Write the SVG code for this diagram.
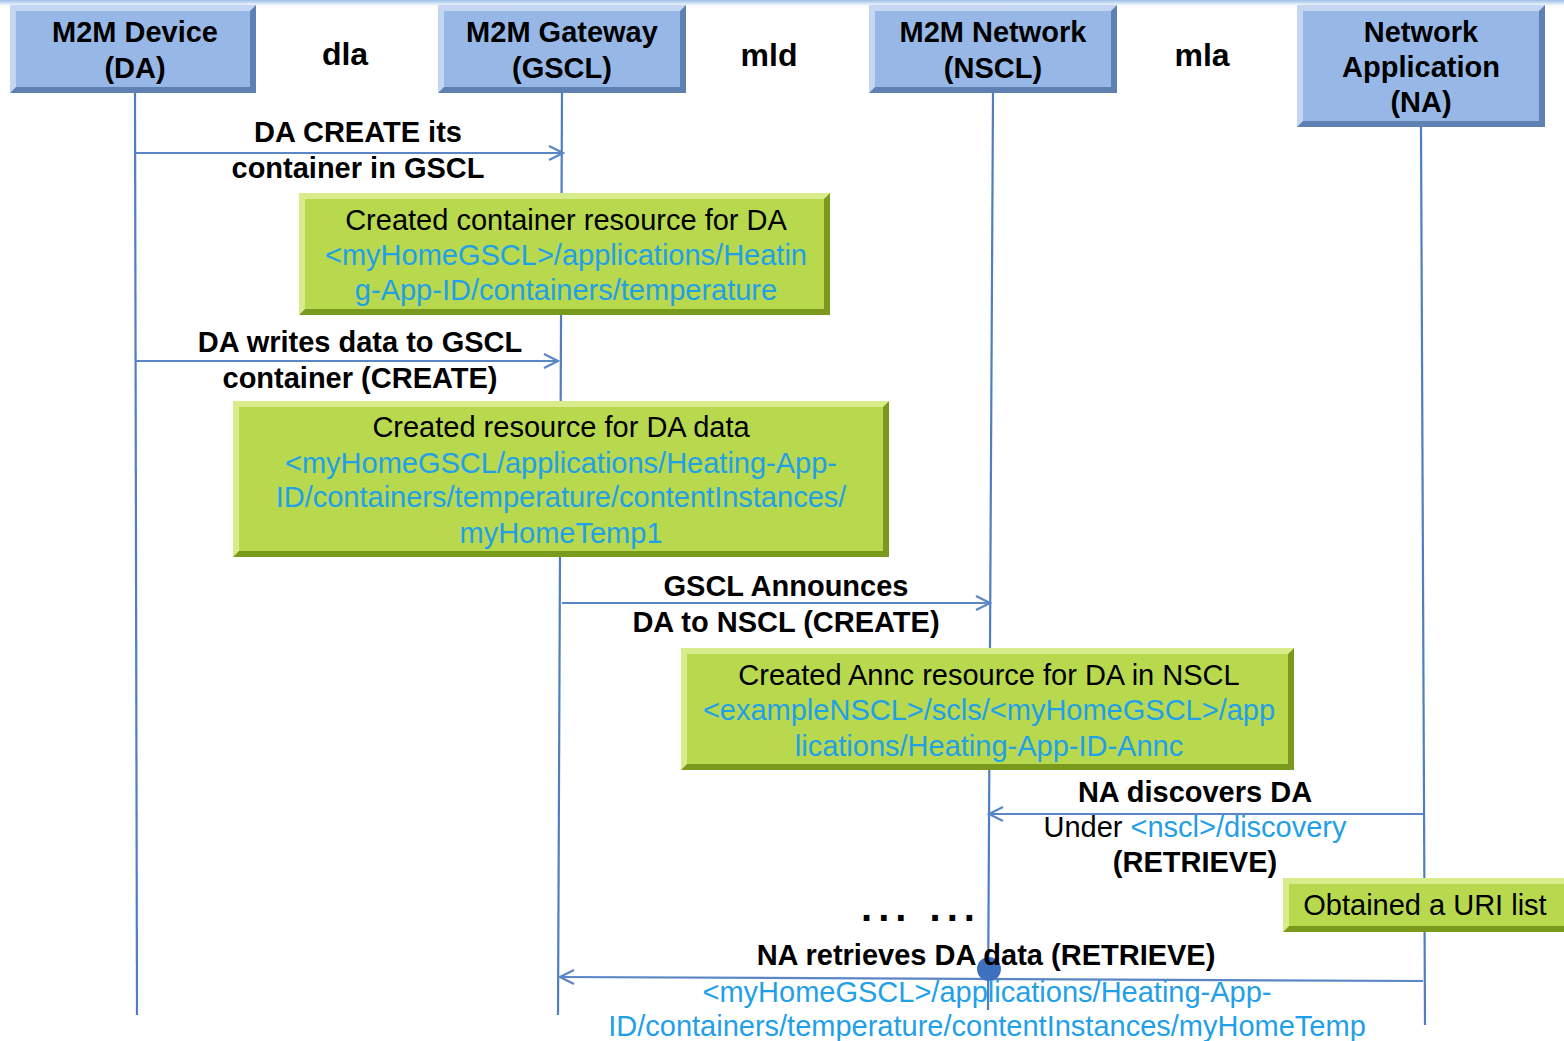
<svg xmlns="http://www.w3.org/2000/svg" width="1564" height="1041" viewBox="0 0 1564 1041">
<defs>
<marker id="open" viewBox="0 0 20 20" refX="18" refY="10" markerWidth="20" markerHeight="20" markerUnits="userSpaceOnUse" orient="auto">
<path d="M4,3 L18,10 L4,17" fill="none" stroke="#5b86c5" stroke-width="2.2"/>
</marker>
<linearGradient id="topband" x1="0" y1="0" x2="0" y2="1">
<stop offset="0" stop-color="#9cc0e8"/><stop offset="1" stop-color="#ffffff"/>
</linearGradient>
</defs>
<style>
text{font-family:"Liberation Sans",Arial,sans-serif;text-anchor:middle}
.hdr{font-size:29px;font-weight:bold;fill:#000}
.iface{font-size:32px;font-weight:bold;fill:#000}
.lbl{font-size:29px;font-weight:bold;fill:#000}
.nrm{font-weight:normal}
.gtxt{font-size:29px;fill:#000}
.blue{fill:#1fa0e8;font-weight:normal}
.life{stroke:#4f7fc0;stroke-width:2.2;fill:none}
.msg{stroke:#5b86c5;stroke-width:2.2;fill:none;marker-end:url(#open)}
.hbox{fill:#97b8e6}
.hlt{fill:#c4d6f2}
.hdk{fill:#5f80b2}
.gbox{fill:#b8d84e}
.glt{fill:#d8ec8c}
.gdk{fill:#7a9a1e}
</style>
<rect x="0" y="0" width="1564" height="6" fill="url(#topband)"/>
<g id="connectors">
<path class="life" d="M135,93 L137,1015"/>
<path class="life" d="M562,93 L558,1015"/>
<path class="life" d="M993,93 L988,1010"/>
<path class="life" d="M1421,127 L1425,1025"/>
<path class="msg" d="M135,153 L563,153"/>
<path class="msg" d="M135,361 L558,361"/>
<path class="msg" d="M562,603 L990,603"/>
<path class="msg" d="M1423,814 L989,814"/>
<path class="msg" d="M1423,981 L560,977"/>
<circle cx="989" cy="969" r="12" fill="#3f6fbf"/>
</g>
<g id="DA">
<rect class="hdk" x="10" y="5" width="246" height="88"/>
<polygon class="hlt" points="10,5 256,5 250,11 16,11 16,87 10,93"/>
<rect class="hbox" x="16" y="11" width="234" height="76"/>
<text class="hdr" x="135" y="42">M2M Device</text>
<text class="hdr" x="135" y="78">(DA)</text>
</g>
<g id="GSCL">
<rect class="hdk" x="438" y="5" width="248" height="88"/>
<polygon class="hlt" points="438,5 686,5 680,11 444,11 444,87 438,93"/>
<rect class="hbox" x="444" y="11" width="236" height="76"/>
<text class="hdr" x="562" y="42">M2M Gateway</text>
<text class="hdr" x="562" y="78">(GSCL)</text>
</g>
<g id="NSCL">
<rect class="hdk" x="869" y="5" width="248" height="88"/>
<polygon class="hlt" points="869,5 1117,5 1111,11 875,11 875,87 869,93"/>
<rect class="hbox" x="875" y="11" width="236" height="76"/>
<text class="hdr" x="993" y="42">M2M Network</text>
<text class="hdr" x="993" y="78">(NSCL)</text>
</g>
<g id="NA">
<rect class="hdk" x="1297" y="5" width="248" height="122"/>
<polygon class="hlt" points="1297,5 1545,5 1539,11 1303,11 1303,121 1297,127"/>
<rect class="hbox" x="1303" y="11" width="236" height="110"/>
<text class="hdr" x="1421" y="42">Network</text>
<text class="hdr" x="1421" y="77">Application</text>
<text class="hdr" x="1421" y="112">(NA)</text>
</g>
<g id="interfaces">
<text class="iface" x="345" y="65">dla</text>
<text class="iface" x="769" y="66">mld</text>
<text class="iface" x="1202" y="66">mla</text>
</g>
<g id="labels">
<text class="lbl" x="358" y="142">DA CREATE its</text>
<text class="lbl" x="358" y="178">container in GSCL</text>
<text class="lbl" x="360" y="352">DA writes data to GSCL</text>
<text class="lbl" x="360" y="388">container (CREATE)</text>
<text class="lbl" x="786" y="596">GSCL Announces</text>
<text class="lbl" x="786" y="632">DA to NSCL (CREATE)</text>
<text class="lbl" x="1195" y="802">NA discovers DA</text>
<text class="lbl" x="1195" y="837"><tspan class="nrm" fill="#000">Under </tspan><tspan class="blue">&lt;nscl&gt;/discovery</tspan></text>
<text class="lbl" x="1195" y="872">(RETRIEVE)</text>
<text class="lbl" x="921" y="921" style="font-size:40px;letter-spacing:6px">... ...</text>
<text class="lbl" x="986" y="965">NA retrieves DA data (RETRIEVE)</text>
<text class="gtxt blue" x="987" y="1002">&lt;myHomeGSCL&gt;/applications/Heating-App-</text>
<text class="gtxt blue" x="987" y="1036">ID/containers/temperature/contentInstances/myHomeTemp</text>
</g>
<g id="box1">
<rect class="gdk" x="299" y="193" width="531" height="122"/>
<polygon class="glt" points="299,193 830,193 824,199 305,199 305,309 299,315"/>
<rect class="gbox" x="305" y="199" width="519" height="110"/>
<text class="gtxt" x="566" y="230">Created container resource for DA</text>
<text class="gtxt blue" x="566" y="265">&lt;myHomeGSCL&gt;/applications/Heatin</text>
<text class="gtxt blue" x="566" y="300">g-App-ID/containers/temperature</text>
</g>
<g id="box2">
<rect class="gdk" x="233" y="401" width="656" height="156"/>
<polygon class="glt" points="233,401 889,401 883,407 239,407 239,551 233,557"/>
<rect class="gbox" x="239" y="407" width="644" height="144"/>
<text class="gtxt" x="561" y="437">Created resource for DA data</text>
<text class="gtxt blue" x="561" y="473">&lt;myHomeGSCL/applications/Heating-App-</text>
<text class="gtxt blue" x="561" y="507">ID/containers/temperature/contentInstances/</text>
<text class="gtxt blue" x="561" y="543">myHomeTemp1</text>
</g>
<g id="box3">
<rect class="gdk" x="681" y="648" width="613" height="122"/>
<polygon class="glt" points="681,648 1294,648 1288,654 687,654 687,764 681,770"/>
<rect class="gbox" x="687" y="654" width="601" height="110"/>
<text class="gtxt" x="989" y="685">Created Annc resource for DA in NSCL</text>
<text class="gtxt blue" x="989" y="720">&lt;exampleNSCL&gt;/scls/&lt;myHomeGSCL&gt;/app</text>
<text class="gtxt blue" x="989" y="756">lications/Heating-App-ID-Annc</text>
</g>
<g id="box4">
<rect class="gdk" x="1283" y="878" width="281" height="54"/>
<polygon class="glt" points="1283,878 1564,878 1564,884 1289,884 1289,926 1283,932"/>
<rect class="gbox" x="1289" y="884" width="275" height="42"/>
<text class="gtxt" x="1425" y="915">Obtained a URI list</text>
</g>
</svg>
